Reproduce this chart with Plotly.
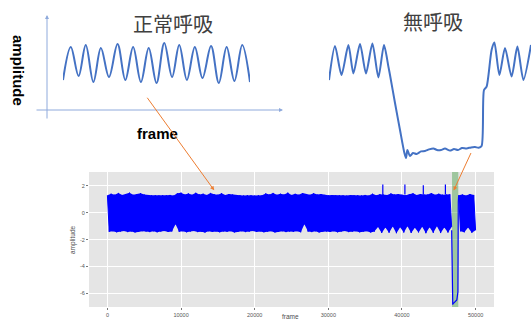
import numpy as np
import plotly.graph_objects as go

# ---------------- recording (main panel) ----------------
# peak / trough amplitude of each breathing cycle, frames 0 .. 46750
band_peaks = [
    1.30, 1.42, 1.35, 1.48, 1.33, 1.40, 1.50, 1.34, 1.38, 1.46,
    1.36, 1.32, 1.30, 1.31, 1.29, 1.32, 1.30, 1.33, 1.28, 1.45,
    1.50, 1.36, 1.44, 1.34, 1.49, 1.37, 1.42, 1.33, 1.48, 1.38,
    1.35, 1.46, 1.32, 1.40, 1.36, 1.30, 1.31, 1.29, 1.32, 1.30,
    1.28, 1.31, 1.30, 1.44, 1.36, 1.48, 1.34, 1.42, 1.36, 1.50,
    1.33, 1.41, 1.35, 1.47, 1.38, 1.34, 1.45, 1.36, 1.40, 1.33,
    1.30, 1.32, 1.29, 1.31, 1.30, 1.28, 1.32, 1.30, 1.31, 1.29,
    1.33, 1.28, 1.42, 1.30, 1.38, 1.35, 1.32, 1.44, 1.36, 1.40,
    1.34, 1.30, 1.38, 1.45, 1.32, 1.40, 1.36, 1.36, 1.47, 1.34,
    1.42, 1.35, 1.37, 1.38,
]
band_troughs = [
    -1.42, -1.38, -1.45, -1.40, -1.36, -1.44, -1.39, -1.46, -1.41, -1.37,
    -1.40, -1.44, -1.38, -1.45, -1.40, -1.36, -1.43, -1.39, -0.85, -1.42,
    -1.38, -1.45, -1.40, -1.36, -1.44, -1.41, -1.47, -1.38, -1.43, -1.40,
    -1.45, -1.39, -1.42, -1.37, -1.46, -1.40, -1.38, -1.44, -1.41, -1.36,
    -1.43, -1.39, -1.45, -1.40, -1.37, -1.46, -1.41, -1.38, -1.44, -1.40,
    -1.42, -1.37, -1.45, -0.85, -1.40, -1.44, -1.38, -1.46, -1.41, -1.39,
    -1.43, -1.38, -1.45, -1.40, -1.36, -1.44, -1.41, -1.38, -1.45, -1.40,
    -1.37, -1.46, -1.40, -1.05, -1.50, -1.10, -1.48, -1.02, -1.52, -1.08,
    -1.47, -1.00, -1.50, -1.12, -1.46, -1.04, -1.52, -1.08, -1.49, -1.00,
    -1.51, -1.10, -1.47, -1.05,
]
band_start, band_end = 0, 46750

# cycles after the apnea episode, frames 47700 .. 50000
tail_peaks = [1.30, 1.36, 1.28, 1.40, 1.33]
tail_troughs = [-1.38, -1.45, -1.10, -1.48, -1.30]
tail_start, tail_end = 47700, 50000

# isolated sharp peaks
spike_frames = [37400, 40400, 42900, 45900]
spike_base = [1.32, 1.36, 1.36, 1.38]
spike_tops = [2.10, 2.10, 2.05, 2.10]

# apnea episode
apnea_frames = [46750, 46850, 46900, 46950, 47000, 47100, 47200, 47300,
                47400, 47450, 47500, 47560, 47600, 47650, 47700]
apnea_values = [-1.30, -6.60, -6.85, -6.70, -6.75, -6.70, -6.68, -6.62,
                -6.55, -6.50, -6.30, -6.10, -5.90, 0.80, 1.30]
apnea_span = [46800, 47650]

x_ticks = [0, 10000, 20000, 30000, 40000, 50000]
y_ticks = [2, 0, -2, -4, -6]
x_range = [-2500, 52500]
y_range = [-7.02, 3.04]

# ---------------- sketches (top) ----------------
normal_t = [0, 5, 10, 14.6, 19.5, 24.3, 29.5, 35, 40, 45, 50, 55, 60, 65,
            70, 74.6, 79.5, 84.6, 89.5, 95, 100, 105, 110, 115, 120]
normal_amp = [-0.75, 0.90, -0.55, 1.00, -0.85, 0.85, -0.60, 1.05, -0.75,
              0.90, -0.85, 0.85, -0.90, 1.10, -0.60, 1.00, -0.75, 0.90,
              -0.65, 0.95, -0.90, 0.90, -0.80, 1.00, -0.85]

apnea_t = [0, 3, 6.25, 9.7, 12.2, 15.5, 18.5, 21.7, 24.7, 27.5, 29.7, 30.5,
           33, 35.5, 37.7, 38.5, 39.2, 40.5, 42, 43.8, 46, 48, 50, 52.2, 54,
           56, 58, 60.5, 62.5, 64.5, 66.5, 68.8, 71, 73, 74.8, 76.3, 77.5,
           78.8, 81.3, 82.7, 85.2, 88, 91.3, 94.2, 97.2, 101]
apnea_amp = [-0.75, 0.95, -0.50, 1.00, -0.42, 1.05, -0.42, 1.08, -0.62, 1.00,
             -0.08, -0.50, -1.90, -3.25, -4.40, -4.65, -4.25, -4.55, -4.40,
             -4.45, -4.32, -4.30, -4.22, -4.17, -4.25, -4.25, -4.18, -4.28,
             -4.20, -4.25, -4.15, -4.17, -4.12, -4.10, -4.14, -4.05, -1.25,
             -1.08, 0.75, 1.12, -0.50, 0.85, -0.58, 0.92, -0.75, 1.00]

BLUE = "#0000FF"
SKETCH = "#4472C4"
ORANGE = "#ED7D31"
AXIS_SKETCH = "#8FAADC"
SANS = "Liberation Sans, Arial, sans-serif"


def interleave(peaks, troughs, start, end):
    pos = np.linspace(start, end, 2 * len(peaks))
    vals = np.empty(2 * len(peaks))
    vals[0::2] = peaks
    vals[1::2] = troughs
    return pos, vals


fig = go.Figure()

# shaded apnea interval (drawn first so the signal sits on top)
fig.add_trace(go.Scatter(
    x=[apnea_span[0], apnea_span[1], apnea_span[1], apnea_span[0], apnea_span[0]],
    y=[y_range[0], y_range[0], y_range[1], y_range[1], y_range[0]],
    mode="lines", fill="toself", fillcolor="rgba(70,160,70,0.45)",
    line=dict(width=0), hoverinfo="skip"))

for peaks, troughs, s, e in [(band_peaks, band_troughs, band_start, band_end),
                             (tail_peaks, tail_troughs, tail_start, tail_end)]:
    pos, vals = interleave(peaks, troughs, s, e)
    fig.add_trace(go.Scatter(x=pos[0::2], y=peaks, mode="lines",
                             line=dict(width=0, color=BLUE), hoverinfo="skip"))
    fig.add_trace(go.Scatter(x=pos[1::2], y=troughs, mode="lines",
                             line=dict(width=0, color=BLUE), fill="tonexty",
                             fillcolor=BLUE, hoverinfo="skip"))
    fig.add_trace(go.Scatter(x=pos, y=vals, mode="lines",
                             line=dict(width=1, color=BLUE)))

sx, sy = [], []
for f, b, t in zip(spike_frames, spike_base, spike_tops):
    sx += [f, f, None]
    sy += [b, t, None]
fig.add_trace(go.Scatter(x=sx, y=sy, mode="lines", line=dict(width=1.2, color=BLUE)))

fig.add_trace(go.Scatter(x=apnea_frames, y=apnea_values, mode="lines",
                         line=dict(width=1.2, color=BLUE)))

# sketches
fig.add_trace(go.Scatter(x=normal_t, y=normal_amp, mode="lines",
                         line=dict(width=2, color=SKETCH, shape="spline", smoothing=1.0),
                         xaxis="x2", yaxis="y2"))
fig.add_trace(go.Scatter(x=apnea_t, y=apnea_amp, mode="lines",
                         line=dict(width=2, color=SKETCH, shape="spline", smoothing=0.7),
                         xaxis="x3", yaxis="y3"))

tick_font = dict(family=SANS, size=5.5, color="#555555")
fig.update_layout(
    width=531, height=320,
    margin=dict(l=0, r=0, t=0, b=0),
    paper_bgcolor="white",
    plot_bgcolor="rgba(0,0,0,0)",
    showlegend=False,
    xaxis=dict(domain=[89 / 531, 494 / 531], range=x_range,
               tickvals=x_ticks, ticktext=[str(v) for v in x_ticks],
               showgrid=True, gridcolor="white", gridwidth=0.8,
               zeroline=False, showline=False, ticks="outside", ticklen=2,
               tickcolor="#777777", tickwidth=0.6, tickfont=tick_font),
    yaxis=dict(domain=[1 - 307 / 320, 1 - 172 / 320], range=y_range,
               tickvals=y_ticks, ticktext=[str(v) for v in y_ticks],
               showgrid=True, gridcolor="white", gridwidth=0.8,
               zeroline=False, showline=False, ticks="outside", ticklen=2,
               tickcolor="#777777", tickwidth=0.6, tickfont=tick_font),
    xaxis2=dict(domain=[63 / 531, 250 / 531], range=[0, 120], visible=False),
    yaxis2=dict(domain=[1 - 90 / 320, 1 - 40 / 320], range=[-1.25, 1.25], visible=False),
    xaxis3=dict(domain=[329 / 531, 1.0], range=[0, 101], visible=False),
    yaxis3=dict(domain=[1 - 160 / 320, 1 - 40 / 320], range=[-4.75, 1.25], visible=False),
)

fig.add_shape(type="rect", xref="x domain", yref="y domain", x0=0, x1=1, y0=0, y1=1,
              fillcolor="#E5E5E5", line=dict(width=0), layer="below")


def label(text, px, py, size, color, family=SANS, angle=0):
    return dict(text=text, x=px / 531, y=1 - py / 320, xref="paper", yref="paper",
                xanchor="center", yanchor="middle", showarrow=False, textangle=angle,
                font=dict(family=family, size=size, color=color))


annotations = [
    # main panel axis titles
    label("amplitude", 73, 240, 6.5, "#4d4d4d", angle=-90),
    label("frame", 291, 316.3, 6.5, "#4d4d4d"),
    # sketch titles
    label("正常呼吸", 173, 23, 20, "#404040", family="Noto Sans CJK JP"),
    label("無呼吸", 433, 22, 20, "#404040", family="Noto Sans CJK JP"),
    label("<b>amplitude</b>", 19, 70, 15, "black", angle=90),
    label("<b>frame</b>", 157, 133, 15, "black"),
    # sketch axes
    dict(text="", x=47 / 531, y=1 - 15 / 320, xref="paper", yref="paper",
         showarrow=True, ax=0, ay=105, arrowhead=2, arrowsize=0.8, arrowwidth=1,
         arrowcolor=AXIS_SKETCH),
    dict(text="", x=283 / 531, y=1 - 110 / 320, xref="paper", yref="paper",
         showarrow=True, ax=-248, ay=0, arrowhead=2, arrowsize=0.8, arrowwidth=1,
         arrowcolor=AXIS_SKETCH),
    # pointers from sketches to the recording
    dict(text="", x=14500, y=1.68, xref="x", yref="y", showarrow=True,
         ax=-68, ay=-94, arrowhead=2, arrowsize=0.8, arrowwidth=1, arrowcolor=ORANGE),
    dict(text="", x=47020, y=1.66, xref="x", yref="y", showarrow=True,
         ax=18, ay=-39, arrowhead=2, arrowsize=0.8, arrowwidth=1, arrowcolor=ORANGE),
]
fig.update_layout(annotations=annotations)

fig.write_html("out.html")
